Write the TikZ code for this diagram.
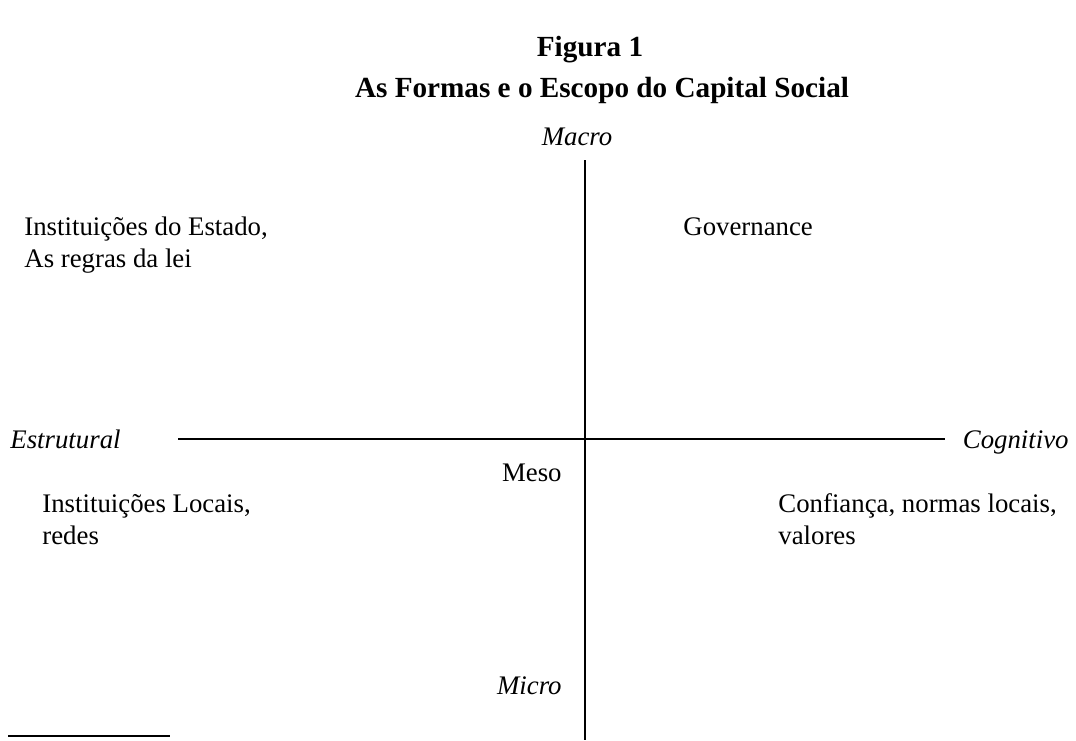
\documentclass[tikz,border=0pt]{standalone}
\usepackage{fontspec}
\setmainfont{Liberation Serif}
\begin{document}
\begin{tikzpicture}[x=0.5pt,y=-0.5pt,
  lbl/.style={inner sep=0pt,font=\fontsize{13.4}{16}\selectfont},
  ilbl/.style={inner sep=0pt,font=\fontsize{13.4}{16}\selectfont\itshape},
  ttl/.style={inner sep=0pt,font=\fontsize{14.6}{18}\selectfont\bfseries},
  axis/.style={line width=1pt}]
\useasboundingbox (0,0) rectangle (1076,740);
\node[ttl,anchor=base] (fig) at (590,56) {Figura 1};
\node[ttl,anchor=base] (sub) at (602,97) {As Formas e o Escopo do Capital Social};
\node[ilbl,anchor=base] (macro) at (577,145) {Macro};
\node[ilbl,anchor=base east] (micro) at (562,694) {Micro};
\node[ilbl,anchor=base west] (estr) at (10,448) {Estrutural};
\node[ilbl,anchor=base east] (cogn) at (1069,448) {Cognitivo};
\coordinate (vtop) at (585,160);
\coordinate (vbot) at (585,740);
\coordinate (hl) at (178,439);
\coordinate (hr) at (945,439);
\draw[axis] (vtop) -- (vbot);
\draw[axis] (hl) -- (hr);
\node[lbl,anchor=base west,align=left] (est) at (24,267) {Instituições do Estado,\\As regras da lei};
\node[lbl,anchor=base west] (gov) at (683,235) {Governance};
\node[lbl,anchor=base east] (meso) at (562,481) {Meso};
\node[lbl,anchor=base west,align=left] (loc) at (42,544) {Instituições Locais,\\redes};
\node[lbl,anchor=base west,align=left] (conf) at (778,544) {Confiança, normas locais,\\valores};
\coordinate (fl) at (8,736);
\coordinate (fr) at (170,736);
\draw[line width=0.8pt] (fl) -- (fr);
\end{tikzpicture}
\end{document}
